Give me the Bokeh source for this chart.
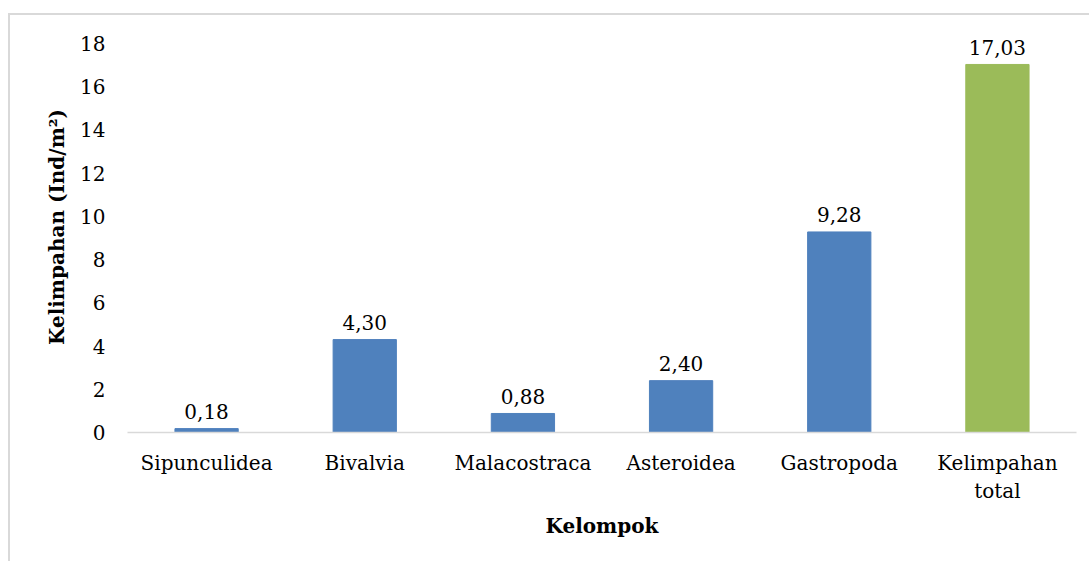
from bokeh.plotting import figure
from bokeh.models import ColumnDataSource, FactorRange
from bokeh.core.properties import value
from bokeh.embed import file_html
from bokeh.resources import INLINE

categories = ["Sipunculidea", "Bivalvia", "Malacostraca", "Asteroidea", "Gastropoda", "Kelimpahan\ntotal"]
values = [0.18, 4.30, 0.88, 2.40, 9.28, 17.03]
colors = ["#4f81bd", "#4f81bd", "#4f81bd", "#4f81bd", "#4f81bd", "#9bbb59"]
y_ticks = [0, 2, 4, 6, 8, 10, 12, 14, 16, 18]

FONT = "DejaVu Serif"

labels = [f"{v:.2f}".replace(".", ",") for v in values]
src = ColumnDataSource(dict(x=categories, top=values, color=colors, label=labels))

# axis shown up to 18; the frame is extended 22 px above so the top value label is not clipped
frame_h = 389
extra = 22
y_end = 18 * (frame_h + extra) / frame_h

p = figure(x_range=FactorRange(*categories), y_range=(0, y_end),
           width=1081, height=548, output_backend="svg", toolbar_location=None,
           min_border_left=117, min_border_right=15, min_border_top=28 - extra, min_border_bottom=131)
p.styles = {"border-top": "2px solid #d9d9d9", "border-left": "2px solid #d9d9d9",
            "margin-top": "13px", "margin-left": "8px"}
p.x_range.range_padding = 0
p.outline_line_color = None
p.xgrid.grid_line_color = None
p.ygrid.grid_line_color = None

p.vbar(x="x", top="top", width=0.4, color="color", source=src)
p.text(x="x", y="top", text="label", source=src, text_align="center", text_baseline="alphabetic",
       y_offset=-17, text_font=value(FONT), text_font_size="20px", text_color="#000000")

p.yaxis.ticker = y_ticks
p.yaxis.axis_line_color = None
p.yaxis.major_tick_line_color = None
p.yaxis.minor_tick_line_color = None
p.yaxis.major_label_standoff = 16
p.yaxis.axis_label = "Kelimpahan (Ind/m²)"
p.yaxis.axis_label_standoff = 8

p.xaxis.axis_line_color = "#d9d9d9"
p.xaxis.axis_line_width = 1.5
p.xaxis.major_tick_line_color = None
p.xaxis.minor_tick_line_color = None
p.xaxis.major_label_standoff = 12
p.xaxis.axis_label = "Kelompok"
p.xaxis.axis_label_standoff = 8

for ax in (p.xaxis, p.yaxis):
    ax.major_label_text_font = FONT
    ax.major_label_text_font_size = "20px"
    ax.major_label_text_color = "#000000"
    ax.axis_label_text_font = FONT
    ax.axis_label_text_font_size = "20px"
    ax.axis_label_text_font_style = "bold"
    ax.axis_label_text_color = "#000000"

open("out.html", "w").write(file_html(p, INLINE))
